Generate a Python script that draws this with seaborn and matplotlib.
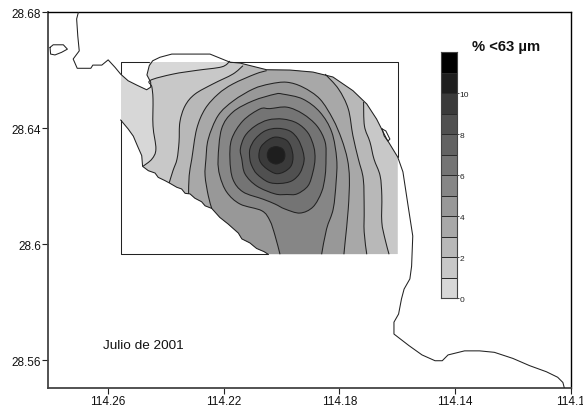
import numpy as np
import pandas as pd
import seaborn as sns
import matplotlib
matplotlib.use("Agg")
import matplotlib.pyplot as plt
from matplotlib.colors import ListedColormap
from matplotlib.patches import PathPatch, Polygon
from matplotlib.path import Path

# coastline (degrees W, degrees N)
coast_lon = [114.2702, 114.2708, 114.2704, 114.2699, 114.2720, 114.2706, 114.2659, 114.2652, 114.2621, 114.2599,
             114.2575, 114.2556, 114.2530, 114.2500, 114.2466, 114.2452, 114.2452, 114.2465, 114.2457, 114.2445,
             114.2420, 114.2379, 114.2282, 114.2247, 114.2178, 114.2143, 114.2051, 114.1971, 114.1891, 114.1822,
             114.1753, 114.1705, 114.1671, 114.1636, 114.1598, 114.1580, 114.1562, 114.1546, 114.1550, 114.1556,
             114.1576, 114.1585, 114.1595, 114.1611, 114.1611, 114.1559, 114.1514, 114.1469, 114.1444, 114.1424,
             114.1367, 114.1315, 114.1264, 114.1200, 114.1142, 114.1084, 114.1045, 114.1027, 114.1022]
coast_lat = [28.6800, 28.6777, 28.6718, 28.6667, 28.6639, 28.6607, 28.6607, 28.6618, 28.6618, 28.6636,
             28.6610, 28.6587, 28.6564, 28.6549, 28.6533, 28.6542, 28.6559, 28.6584, 28.6616, 28.6633,
             28.6645, 28.6656, 28.6656, 28.6656, 28.6628, 28.6625, 28.6602, 28.6601, 28.6594, 28.6577,
             28.6530, 28.6484, 28.6432, 28.6363, 28.6301, 28.6250, 28.6132, 28.6029, 28.5925, 28.5881,
             28.5846, 28.5812, 28.5760, 28.5732, 28.5691, 28.5651, 28.5619, 28.5599, 28.5599, 28.5619,
             28.5633, 28.5633, 28.5628, 28.5607, 28.5582, 28.5561, 28.5542, 28.5524, 28.5505]

south_lon = [114.2556, 114.2530, 114.2512, 114.2498, 114.2483, 114.2480, 114.2460, 114.2437, 114.2426, 114.2403,
             114.2388, 114.2362, 114.2345, 114.2333, 114.2316, 114.2299, 114.2276, 114.2264, 114.2241, 114.2213,
             114.2184, 114.2149, 114.2137, 114.2109, 114.2086, 114.2060, 114.2046]
south_lat = [28.6429, 28.6398, 28.6373, 28.6340, 28.6306, 28.6269, 28.6254, 28.6246, 28.6231, 28.6220,
             28.6212, 28.6197, 28.6191, 28.6176, 28.6174, 28.6159, 28.6147, 28.6133, 28.6124, 28.6093,
             28.6070, 28.6039, 28.6019, 28.6005, 28.5986, 28.5975, 28.5966]

island_lon = [114.2800, 114.2789, 114.2754, 114.2740, 114.2760, 114.2783, 114.2798, 114.2800]
island_lat = [28.6679, 28.6688, 28.6688, 28.6673, 28.6662, 28.6653, 28.6656, 28.6679]

loop_lon = [114.1652, 114.1639, 114.1625, 114.1632, 114.1645, 114.1652]
loop_lat = [28.6398, 28.6391, 28.6363, 28.6356, 28.6374, 28.6398]

# sampled area
box_west, box_east = 114.2556, 114.1598
box_south, box_north = 28.5966, 28.6630

# isolines of % <63 um
c1_lon = [114.2178, 114.2206, 114.2292, 114.2375, 114.2454, 114.2448, 114.2444, 114.2444, 114.2434, 114.2448, 114.2479]
c1_lat = [28.6632, 28.6612, 28.6600, 28.6587, 28.6565, 28.6543, 28.6501, 28.6408, 28.6329, 28.6294, 28.6269]

c2_west_lon = [114.2388, 114.2375, 114.2361, 114.2354, 114.2351, 114.2333, 114.2299, 114.2237, 114.2168, 114.2133]
c2_west_lat = [28.6212, 28.6254, 28.6294, 28.6353, 28.6422, 28.6478, 28.6518, 28.6553, 28.6587, 28.6616]
c2_east_lon = [114.1716, 114.1713, 114.1694, 114.1680, 114.1659, 114.1653, 114.1653, 114.1642, 114.1628]
c2_east_lat = [28.6491, 28.6408, 28.6353, 28.6294, 28.6237, 28.6168, 28.6077, 28.6019, 28.5966]

c3_west_lon = [114.2321, 114.2319, 114.2310, 114.2293, 114.2264, 114.2219, 114.2168, 114.2091, 114.2051]
c3_west_lat = [28.6174, 28.6237, 28.6294, 28.6398, 28.6467, 28.6518, 28.6553, 28.6587, 28.6599]
c3_east_lon = [114.1849, 114.1803, 114.1769, 114.1753, 114.1734, 114.1717, 114.1714, 114.1714, 114.1705]
c3_east_lat = [28.6587, 28.6536, 28.6467, 28.6375, 28.6294, 28.6225, 28.6122, 28.6043, 28.5966]

c4_lon = [114.2241, 114.2253, 114.2264, 114.2261, 114.2253, 114.2219, 114.2166, 114.2097, 114.2040, 114.1982,
          114.1926, 114.1867, 114.1822, 114.1792, 114.1772, 114.1765, 114.1769, 114.1780, 114.1784]
c4_lat = [28.6124, 28.6168, 28.6237, 28.6294, 28.6363, 28.6444, 28.6495, 28.6536, 28.6553, 28.6559,
          28.6542, 28.6501, 28.6432, 28.6363, 28.6294, 28.6225, 28.6122, 28.6007, 28.5966]

c5_lon = [114.2005, 114.2022, 114.2040, 114.2068, 114.2143, 114.2189, 114.2213, 114.2219, 114.2207, 114.2168, 114.2098,
          114.2022, 114.1995, 114.1926, 114.1867, 114.1826, 114.1809, 114.1811, 114.1821, 114.1844, 114.1861]
c5_lat = [28.5966, 28.6030, 28.6082, 28.6116, 28.6139, 28.6180, 28.6237, 28.6294, 28.6398, 28.6456, 28.6495,
          28.6518, 28.6518, 28.6501, 28.6456, 28.6387, 28.6294, 28.6215, 28.6122, 28.6053, 28.5966]

c6_lon = [114.2178, 114.2172, 114.2133, 114.2074, 114.2040, 114.1981, 114.1926, 114.1877, 114.1849, 114.1846,
          114.1849, 114.1861, 114.1891, 114.1936, 114.1988, 114.2022, 114.2064, 114.2133, 114.2168]
c6_lat = [28.6294, 28.6363, 28.6426, 28.6467, 28.6468, 28.6473, 28.6450, 28.6408, 28.6353, 28.6294,
          28.6236, 28.6181, 28.6129, 28.6108, 28.6122, 28.6139, 28.6156, 28.6181, 28.6225]

c7_lon = [114.2137, 114.2142, 114.2126, 114.2091, 114.2046, 114.1995, 114.1946, 114.1908, 114.1888, 114.1884,
          114.1891, 114.1908, 114.1946, 114.1981, 114.2022, 114.2085, 114.2126]
c7_lat = [28.6294, 28.6329, 28.6374, 28.6408, 28.6429, 28.6432, 28.6418, 28.6384, 28.6336, 28.6294,
          28.6250, 28.6202, 28.6174, 28.6172, 28.6174, 28.6201, 28.6243]

c8_lon = [114.2109, 114.2109, 114.2091, 114.2057, 114.2015, 114.1971, 114.1943, 114.1926, 114.1922, 114.1936,
          114.1964, 114.2005, 114.2046, 114.2085, 114.2102]
c8_lat = [28.6294, 28.6329, 28.6363, 28.6391, 28.6400, 28.6391, 28.6363, 28.6322, 28.6287, 28.6246,
          28.6219, 28.6210, 28.6215, 28.6243, 28.6270]

c9_lon = [114.2078, 114.2071, 114.2046, 114.2019, 114.1984, 114.1967, 114.1960, 114.1967, 114.1991, 114.2019, 114.2050, 114.2071]
c9_lat = [28.6305, 28.6336, 28.6360, 28.6370, 28.6360, 28.6336, 28.6301, 28.6270, 28.6250, 28.6244, 28.6260, 28.6281]

c10_lon = [114.2049, 114.2041, 114.2019, 114.1996, 114.1988, 114.1995, 114.2019, 114.2041]
c10_lat = [28.6308, 28.6329, 28.6337, 28.6329, 28.6308, 28.6287, 28.6277, 28.6287]

level_colors = ["#d7d7d7", "#c8c8c8", "#b8b8b8", "#a8a8a8", "#989898", "#868686",
                "#747474", "#626262", "#505050", "#3a3a3a", "#1e1e1e", "#000000"]
legend_levels = list(range(12))
legend_ticks = [0, 2, 4, 6, 8, 10]

lon_ticks = [114.26, 114.22, 114.18, 114.14, 114.1]
lat_ticks = [28.56, 28.6, 28.64, 28.68]

LINE = "#222222"

sns.set_style("ticks")
plt.rcParams["font.family"] = ["Liberation Sans", "DejaVu Sans"]

fig = plt.figure(figsize=(5.83, 4.10), dpi=100)
ax = fig.add_axes([48 / 583, 1 - 389 / 410, 522.7 / 583, 375.7 / 410])
ax.set_xlim(114.2807, 114.10)
ax.set_ylim(28.5505, 28.68)

# water inside the box: coast, then box east and south sides, then south coast back
water_lon = (coast_lon[11:19] + [coast_lon[18], coast_lon[24]] + coast_lon[24:35]
             + [box_east] + south_lon[::-1])
water_lat = (coast_lat[11:19] + [box_north, box_north] + coast_lat[24:35]
             + [box_south] + south_lat[::-1])
water = Polygon(np.column_stack([water_lon, water_lat]), closed=True, transform=ax.transData)


def curve(lon, lat, closed=False):
    # bezier through the read points, so matplotlib draws the isoline round
    p = np.column_stack([lon, lat])
    n = len(p)
    verts = [p[0]]
    codes = [Path.MOVETO]
    for i in range(n if closed else n - 1):
        p0 = p[(i - 1) % n] if closed or i > 0 else p[i]
        p1 = p[i]
        p2 = p[(i + 1) % n]
        p3 = p[(i + 2) % n] if closed or i + 2 < n else p2
        verts += [p1 + (p2 - p0) / 6, p2 - (p3 - p1) / 6, p2]
        codes += [Path.CURVE4] * 3
    return verts, codes


def region(parts, level):
    # parts are curves or single corner points, joined up and closed
    verts, codes = [], []
    for part in parts:
        if isinstance(part[1], list):
            v, c = part
            c = list(c)
            if codes:
                c[0] = Path.LINETO
            verts += v
            codes += c
        else:
            verts.append(np.array(part))
            codes.append(Path.LINETO if codes else Path.MOVETO)
    verts.append(verts[0])
    codes.append(Path.CLOSEPOLY)
    patch = PathPatch(Path(verts, codes), facecolor=level_colors[level], lw=0, zorder=level + 1)
    ax.add_patch(patch)
    patch.set_clip_path(water)


def iso_line(lon, lat, closed=False):
    verts, codes = curve(lon, lat, closed)
    ax.add_patch(PathPatch(Path(verts, codes), fill=False, edgecolor=LINE, lw=0.75, zorder=20))


def map_line(lon, lat, lw=0.75):
    df = pd.DataFrame({"lon": lon, "lat": lat})
    sns.lineplot(data=df, x="lon", y="lat", sort=False, estimator=None, color=LINE, lw=lw, ax=ax, zorder=21)


# painted from the outside in, each region cut to the water
region([(box_west, box_south), (box_east, box_south), (box_east, box_north), (box_west, box_north)], 0)
region([curve(c1_lon, c1_lat), (c1_lon[-1], box_south), (box_east, box_south), (box_east, box_north), (c1_lon[0], box_north)], 1)
region([curve(c2_west_lon, c2_west_lat), (c2_west_lon[-1], box_north), (c2_east_lon[0], box_north),
        curve(c2_east_lon, c2_east_lat), (c2_west_lon[0], box_south)], 2)
region([curve(c3_west_lon, c3_west_lat), (c3_west_lon[-1], box_north), (c3_east_lon[0], box_north),
        curve(c3_east_lon, c3_east_lat), (c3_west_lon[0], box_south)], 3)
region([curve(c4_lon, c4_lat), (c4_lon[0], box_south)], 4)
region([curve(c5_lon, c5_lat)], 5)
region([curve(c6_lon, c6_lat, closed=True)], 6)
region([curve(c7_lon, c7_lat, closed=True)], 7)
region([curve(c8_lon, c8_lat, closed=True)], 8)
region([curve(c9_lon, c9_lat, closed=True)], 9)
region([curve(c10_lon, c10_lat, closed=True)], 10)

for lon, lat in [(c1_lon, c1_lat), (c2_west_lon, c2_west_lat), (c2_east_lon, c2_east_lat),
                 (c3_west_lon, c3_west_lat), (c3_east_lon, c3_east_lat), (c4_lon, c4_lat), (c5_lon, c5_lat)]:
    iso_line(lon, lat)
for lon, lat in [(c6_lon, c6_lat), (c7_lon, c7_lat), (c8_lon, c8_lat), (c9_lon, c9_lat), (c10_lon, c10_lat)]:
    iso_line(lon, lat, closed=True)

# coast, and the parts of the box the fill does not hide
for lon, lat in [(coast_lon, coast_lat), (south_lon, south_lat), (island_lon, island_lat), (loop_lon, loop_lat)]:
    map_line(lon, lat)
map_line([box_west, box_west, coast_lon[18]], [coast_lat[11], box_north, box_north])
map_line([coast_lon[24], box_east, box_east], [box_north, box_north, coast_lat[34]])
map_line([box_west, box_west, south_lon[-1]], [south_lat[0], box_south, box_south])

ax.set_xticks(lon_ticks)
ax.set_xticklabels([str(v) for v in lon_ticks])
ax.set_yticks(lat_ticks)
ax.set_yticklabels([str(v) for v in lat_ticks])
ax.set_xlabel("")
ax.set_ylabel("")
ax.tick_params(labelsize=8.5, length=4, width=0.8, pad=1, color="#222222", labelcolor="#111111")
sns.despine(ax=ax, top=False, right=False)
for side in ["top", "right"]:
    ax.spines[side].set_color("black")
    ax.spines[side].set_linewidth(1.0)
for side in ["left", "bottom"]:
    ax.spines[side].set_color("#444444")
    ax.spines[side].set_linewidth(1.3)

ax.text(114.2617, 28.5653, "Julio de 2001", fontsize=9.7, va="center", ha="left", color="#111111")
ax.text(114.1342, 28.6684, "% <63 µm", fontsize=10.6, fontweight="bold", va="center", ha="left", color="#111111")

# legend
cax = fig.add_axes([441.3 / 583, 1 - 299.3 / 410, 15.4 / 583, 246 / 410])
cells = np.array(legend_levels).reshape(-1, 1)
sns.heatmap(cells, cmap=ListedColormap(level_colors), vmin=-0.5, vmax=11.5, cbar=False,
            linewidths=0.7, linecolor="#2a2a2a", xticklabels=False, ax=cax)
cax.set_ylim(0, 12)
cax.yaxis.tick_right()
cax.set_yticks(legend_ticks)
cax.set_yticklabels([str(v) for v in legend_ticks], rotation=0)
cax.tick_params(axis="y", labelsize=6, length=1.5, width=0.6, pad=0.5, color="#333333", labelcolor="#222222")
for spine in cax.spines.values():
    spine.set_visible(True)
    spine.set_color("#444444")
    spine.set_linewidth(0.8)

fig.savefig("out.png", dpi=100)
